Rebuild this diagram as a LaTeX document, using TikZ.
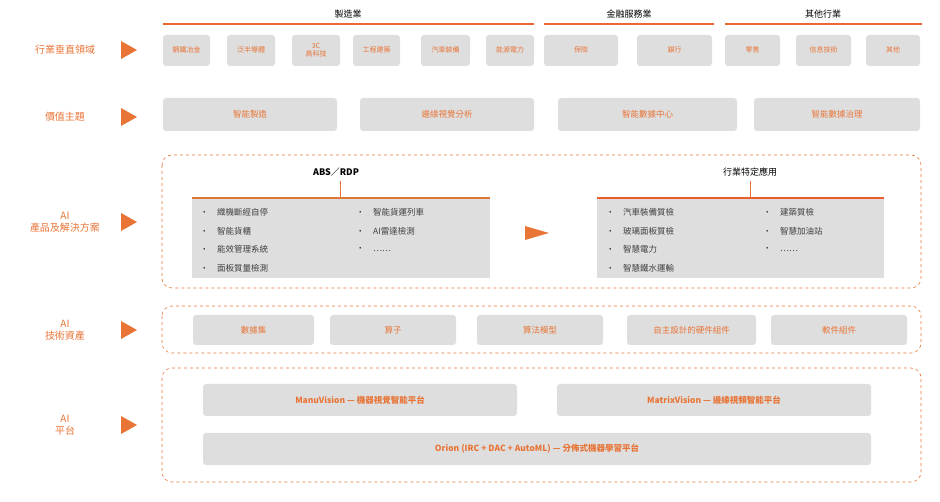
\documentclass[tikz,border=0pt]{standalone}
\usepackage{fontspec}
\setmainfont{Noto Sans CJK TC}
\begin{document}
\begin{tikzpicture}[x=1pt,y=-1pt,
 every node/.style={inner sep=0pt},
 box/.style={fill=boxgrey,rounded corners=3pt},
 otxt/.style={text=orng,font=\fontsize{7}{8}\selectfont,align=center},
 btxt/.style={text=orng,font=\bfseries\fontsize{8.5}{10}\selectfont},
 side/.style={text=orng,font=\fontsize{10}{12}\selectfont,align=center},
 tri/.style={fill=orng},
 hdr/.style={font=\fontsize{9}{11}\selectfont},
 hline/.style={draw=orng!90!red,line width=1.2pt},
 dbox/.style={draw=orng,dashed,rounded corners=10pt,line width=0.6pt},
 li/.style={font=\fontsize{8.5}{10}\selectfont,text=black!75,anchor=west}]
\definecolor{orng}{RGB}{232,116,54}
\definecolor{boxgrey}{RGB}{222,222,222}
\useasboundingbox (0,0) rectangle (940,502);
% side labels
\foreach \y/\t in {50/行業垂直領域,117/價值主題,222/{AI\\產品及解決方案},330/{AI\\技術資產},425/{AI\\平台}}{
 \node[side] at (65,\y) {\t};
 \fill[orng] (121,\y-9) -- (137,\y) -- (121,\y+9) -- cycle;}
% row 1
\node[hdr] (h1) at (348,14) {製造業};
\node[hdr] (h2) at (629,14) {金融服務業};
\node[hdr] (h3) at (823,14) {其他行業};
\draw[hline] (163,24) -- (534,24);
\draw[hline] (544,24) -- (714,24);
\draw[hline] (725,24) -- (922,24);
\foreach \a/\b/\t in {163/210/鋼鐵冶金,227/275/泛半導體,292/340/{3C\\高科技},353/400/工程建築,421/470/汽車裝備,486/534/能源電力,544/618/保險,637/712/銀行,725/780/零售,796/851/信息技術,866/920/其他}{
 \fill[box] (\a,35) rectangle (\b,66);
 \node[otxt] at ({(\a+\b)/2},50) {\t};}
% row 2
\foreach \a/\b/\t in {163/337/智能製造,360/534/邊緣視覺分析,558/737/智能數據中心,754/920/智能數據治理}{
 \fill[box] (\a,98) rectangle (\b,131);
 \node[otxt,font=\fontsize{8.5}{10}\selectfont] at ({(\a+\b)/2},114) {\t};}
% row 3
\draw[dbox] (162,155) rectangle (921,288);
\node[hdr,font=\bfseries\fontsize{9}{11}\selectfont] (t1) at (336,172) {ABS／RDP};
\node[hdr] (t2) at (750,172) {行業特定應用};
\fill[boxgrey] (192,199) rectangle (490,278);
\fill[boxgrey] (597,199) rectangle (884,278);
\draw[orng!70!brown,line width=1.5pt] (192,198) -- (490,198);
\draw[orng!80!red,line width=1.5pt] (597,198) -- (884,198);
\draw[orng] (340,181) -- (340,197);
\draw[orng] (750,181) -- (750,197);
\fill[orng] (525,226) -- (549,233) -- (525,240) -- cycle;
\foreach \y/\t in {212/織機斷經自停,231/智能貨櫃,249/能效管理系統,268/面板質量檢測}{\node[li] at (200,\y) {•\quad\t};}
\foreach \y/\t in {212/智能貨運列車,231/AI雷達檢測,249/……}{\node[li] at (356,\y) {•\quad\t};}
\foreach \y/\t in {212/汽車裝備質檢,231/玻璃面板質檢,249/智慧電力,268/智慧鐵水運輸}{\node[li] at (606,\y) {•\quad\t};}
\foreach \y/\t in {212/建築質檢,231/智慧加油站,249/……}{\node[li] at (763,\y) {•\quad\t};}
% row 4
\draw[dbox] (162,306) rectangle (921,353);
\foreach \a/\b/\t in {193/314/數據集,330/456/算子,477/603/算法模型,627/756/自主設計的硬件組件,771/907/軟件組件}{
 \fill[box] (\a,315) rectangle (\b,345);
 \node[otxt,font=\fontsize{8.5}{10}\selectfont] at ({(\a+\b)/2},330) {\t};}
% row 5
\draw[dbox] (162,368) rectangle (921,482);
\fill[box] (203,384) rectangle (517,416);
\node[btxt] at (360,400) {ManuVision — 機器視覺智能平台};
\fill[box] (557,384) rectangle (871,416);
\node[btxt] at (714,400) {MatrixVision — 邊緣視頻智能平台};
\fill[box] (203,433) rectangle (871,465);
\node[btxt] at (537,449) {Orion (IRC + DAC + AutoML) — 分佈式機器學習平台};
\end{tikzpicture}
\end{document}
